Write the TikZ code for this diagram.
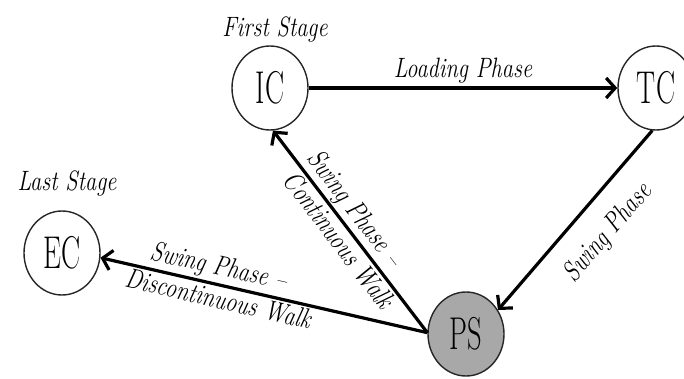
\documentclass[tikz,border=0pt]{standalone}
\usetikzlibrary{arrows.meta,shapes.geometric}
\definecolor{psgray}{RGB}{168,168,168}
% horizontally condensed text
\newcommand{\statetext}[1]{\scalebox{0.62}[1]{#1}}
\newcommand{\lbltext}[1]{\scalebox{0.80}[1]{#1}}

\begin{document}
\begin{tikzpicture}[x=1pt,y=1pt,
  state/.style={ellipse, draw=black!85, line width=1.4pt, minimum width=76pt,
    minimum height=84pt, inner sep=0pt, font=\fontsize{46}{46}\selectfont},
  lbl/.style={font=\itshape\fontsize{28}{28}\selectfont, inner sep=2pt},
  link/.style={line width=3.2pt, -{Straight Barb[length=9pt,width=20pt]}}
]
\useasboundingbox (0,0) rectangle (684,378);

% gait states
\node[state] (IC) at (270,290) {\statetext{IC}};
\node[state] (TC) at (656,290) {\statetext{TC}};
\node[state] (EC) at (62,125) {\statetext{EC}};
\node[state, fill=psgray] (PS) at (466,44) {\statetext{PS}};

% stage captions
\node[lbl] (first) at (275,348) {\lbltext{First Stage}};
\node[lbl] (last) at (67,195) {\lbltext{Last Stage}};

% transitions
\draw[link] (IC.east) -- (TC.west)
  node[lbl, midway, above=1pt] (loading) {\lbltext{Loading Phase}};
\draw[link] (TC.265) -- (PS.37)
  node[lbl, pos=0.45, sloped, below=17pt] (swingtc) {\lbltext{Swing Phase}};
\draw[link] (PS.178) -- (IC.274)
  node[lbl, pos=0.56, sloped, above=0pt] (swingc) {\lbltext{Swing Phase --}}
  node[lbl, pos=0.5, sloped, below=0pt] (contw) {\lbltext{Continuous Walk}};
\draw[link] (PS.178) -- (EC.-7)
  node[lbl, pos=0.65, sloped, above=0pt] (swingd) {\lbltext{Swing Phase --}}
  node[lbl, pos=0.63, sloped, below=0pt] (discw) {\lbltext{Discontinuous Walk}};
\end{tikzpicture}
\end{document}
